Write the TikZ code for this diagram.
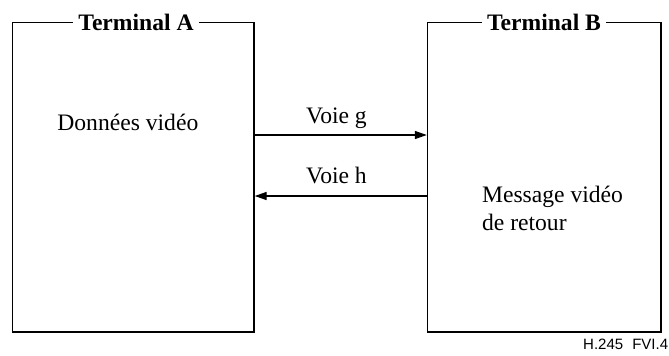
\documentclass[tikz,border=0pt]{standalone}
\usepackage{fontspec}
\setmainfont{Liberation Serif}
\newfontfamily\labelfont{Liberation Sans}
\usetikzlibrary{arrows.meta,positioning}

\begin{document}
\begin{tikzpicture}[
  x=0.5pt, y=-0.5pt,
  font=\fontsize{11.8}{14}\selectfont,
  terminal/.style={
    draw,
    line width=0.7pt,
    inner sep=0pt,
    minimum height=154.65pt
  },
  title/.style={
    fill=white,
    inner xsep=2.5pt,
    inner ysep=1pt,
    anchor=base,
    font=\fontsize{11.8}{14}\selectfont\bfseries
  },
  channel/.style={-{Triangle[length=6pt,width=4pt]},line width=0.7pt},
  lbl/.style={anchor=base,inner sep=0pt}
]
  \useasboundingbox (0,0) rectangle (669,355);

  \node[terminal,minimum width=120.75pt] (termA) at (133.25,177.35) {};
  \node[terminal,minimum width=116.75pt] (termB) at (544.25,177.35) {};
  \node[title] (titleA) at (136,30) {Terminal A};
  \node[title] (titleB) at (544,30) {Terminal B};

  \node[lbl,anchor=base west] (data) at (57,130) {Données vidéo};
  \node[lbl,anchor=base west,align=left] (msg) at (481.7,230)
    {Message vidéo\\de retour};

  % voies entre les terminaux
  \coordinate (g) at (0,135);
  \coordinate (h) at (0,196);
  \draw[channel] (termA.east |- g) -- (termB.west |- g);
  \draw[channel] (termB.west |- h) -- (termA.east |- h);
  \node[lbl] (voieg) at (336.5,123) {Voie g};
  \node[lbl] (voieh) at (336.5,183) {Voie h};

  \node[lbl,anchor=base east,font=\labelfont\fontsize{7.5}{9}\selectfont]
    (ref) at (668.5,349) {H.245\hspace{0.6em}FVI.4};
\end{tikzpicture}
\end{document}
